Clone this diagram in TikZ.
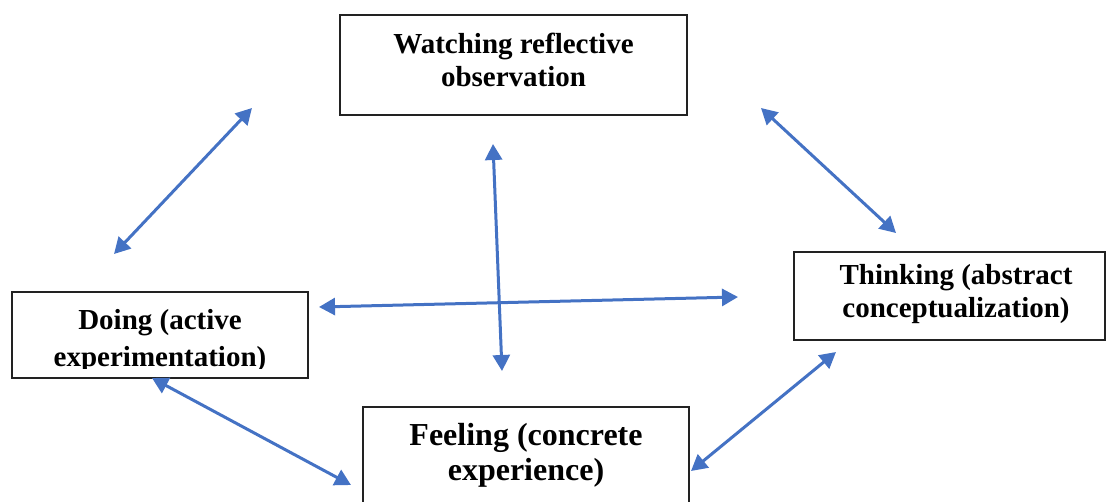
\documentclass[tikz,border=0pt]{standalone}
\usepackage{fontspec}
\setmainfont{Liberation Serif}
\usetikzlibrary{arrows.meta}
\definecolor{arrowblue}{HTML}{4472C4}
\definecolor{boxline}{HTML}{222222}
\tikzset{
  boxframe/.style={draw=boxline, line width=1.3pt},
  boxtext/.style={align=center, inner sep=0pt, font=\bfseries\fontsize{29}{33}\selectfont, anchor=base},
  widetext/.style={boxtext, font=\bfseries\fontsize{29}{37}\selectfont},
  bigtext/.style={boxtext, font=\bfseries\fontsize{32}{35}\selectfont},
  link/.style={draw=arrowblue, line width=3pt, {Triangle[length=16pt,width=17pt]}-{Triangle[length=16pt,width=17pt]}}
}
\begin{document}
\begin{tikzpicture}[x=1pt,y=-1pt]
\useasboundingbox (0,0) rectangle (1106,501);
% boxes
\draw[boxframe] (340,15) rectangle (687,115);
\node[boxtext] (watch) at (513.5,86) {Watching reflective\\observation};
\draw[boxframe] (12,292) rectangle (308,378);
\begin{scope}
\clip (12,292) rectangle (308,368);
\node[widetext] (doing) at (160,366) {Doing (active\\experimentation)};
\end{scope}
\draw[boxframe] (794,252) rectangle (1105,340);
\node[boxtext] (think) at (956,317) {Thinking (abstract\\conceptualization)};
\draw[boxframe] (363,407) rectangle (689,520);
\node[bigtext] (feel) at (526,480) {Feeling (concrete\\experience)};
% arrow end points
\coordinate (a1) at (252,108); \coordinate (b1) at (114,254);
\coordinate (a2) at (761,108); \coordinate (b2) at (896,233);
\coordinate (a3) at (493,144); \coordinate (b3) at (502,371);
\coordinate (a4) at (319,307); \coordinate (b4) at (738,297);
\coordinate (a5) at (152,378); \coordinate (b5) at (351,485);
\coordinate (a6) at (836,352); \coordinate (b6) at (691,471);
\draw[link] (a1) -- (b1);
\draw[link] (a2) -- (b2);
\draw[link] (a3) -- (b3);
\draw[link] (a4) -- (b4);
\draw[link] (a5) -- (b5);
\draw[link] (a6) -- (b6);
\end{tikzpicture}
\end{document}
